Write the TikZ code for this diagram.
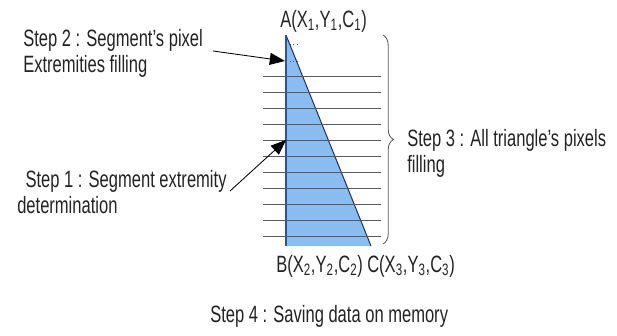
\documentclass[tikz,border=0pt]{standalone}
\usepackage{fontspec}
\setmainfont{Liberation Sans}[FakeStretch=0.70]
\usetikzlibrary{positioning,arrows.meta,decorations.pathreplacing}
\definecolor{fillblue}{RGB}{138,188,240}
\definecolor{edgeblue}{RGB}{45,80,160}
\definecolor{rulegray}{RGB}{90,90,90}
\definecolor{textgray}{RGB}{35,35,35}
\tikzset{
  steptext/.style={anchor=base west, inner sep=0pt, align=left, text=textgray, font=\fontsize{16.8}{18.4}\selectfont},
  vertexlabel/.style={anchor=base west, inner sep=0pt, text=textgray, font=\fontsize{16.8}{18.4}\selectfont},
  scanline/.style={draw=rulegray, line width=0.7pt},
  pointer/.style={-{Triangle[length=3.8mm, width=3mm]}, line width=0.6pt, black},
  bracegray/.style={draw=rulegray, line width=0.6pt, decorate, decoration={brace, amplitude=2.6mm}}
}
\begin{document}
\begin{tikzpicture}[x=0.025cm, y=-0.025cm]
  \useasboundingbox (0,0) rectangle (617,335);
  % triangle
  \coordinate (A) at (286,35);
  \coordinate (B) at (286,246);
  \coordinate (C) at (371,246);
  \fill[fillblue] (A) -- (B) -- (C) -- cycle;
  \draw[edgeblue!60!black, line width=0.7pt] (A) -- (C);
  \draw[edgeblue, line width=1pt] (A) -- (B);
  % scan lines
  \foreach \y in {76,92,...,236}
    \draw[scanline] (263,\y) -- (381,\y);
  \draw[rulegray, dotted, line width=0.6pt] (286,44) -- (300,44);
  \draw[rulegray, dotted, line width=0.6pt] (286,61) -- (300,61);
  % labels
  \node[vertexlabel] (lblA) at (280,27) {A(X\textsubscript{1},Y\textsubscript{1},C\textsubscript{1})};
  \node[vertexlabel] (lblB) at (276,272) {B(X\textsubscript{2},Y\textsubscript{2},C\textsubscript{2})};
  \node[vertexlabel] (lblC) at (367,272) {C(X\textsubscript{3},Y\textsubscript{3},C\textsubscript{3})};
  \node[steptext] (stepTwo) at (23,72) {Step 2 : Segment's pixel\\Extremities filling};
  \node[steptext] (stepOne) at (17,213) {\hspace*{0.35em}Step 1 : Segment extremity\\determination};
  \node[steptext] (stepThree) at (407,172) {Step 3 : All triangle's pixels\\filling};
  \node[steptext] (stepFour) at (210,322) {Step 4 : Saving data on memory};
  % arrows
  \coordinate (twoTail) at (213,51);
  \coordinate (twoTip) at (285,61);
  \coordinate (oneTail) at (230,191);
  \coordinate (oneTip) at (286,140);
  \draw[pointer] (twoTail) -- (twoTip);
  \draw[pointer] (oneTail) -- (oneTip);
  % brace
  \draw[bracegray] (383,35) -- (383,244);
\end{tikzpicture}
\end{document}
